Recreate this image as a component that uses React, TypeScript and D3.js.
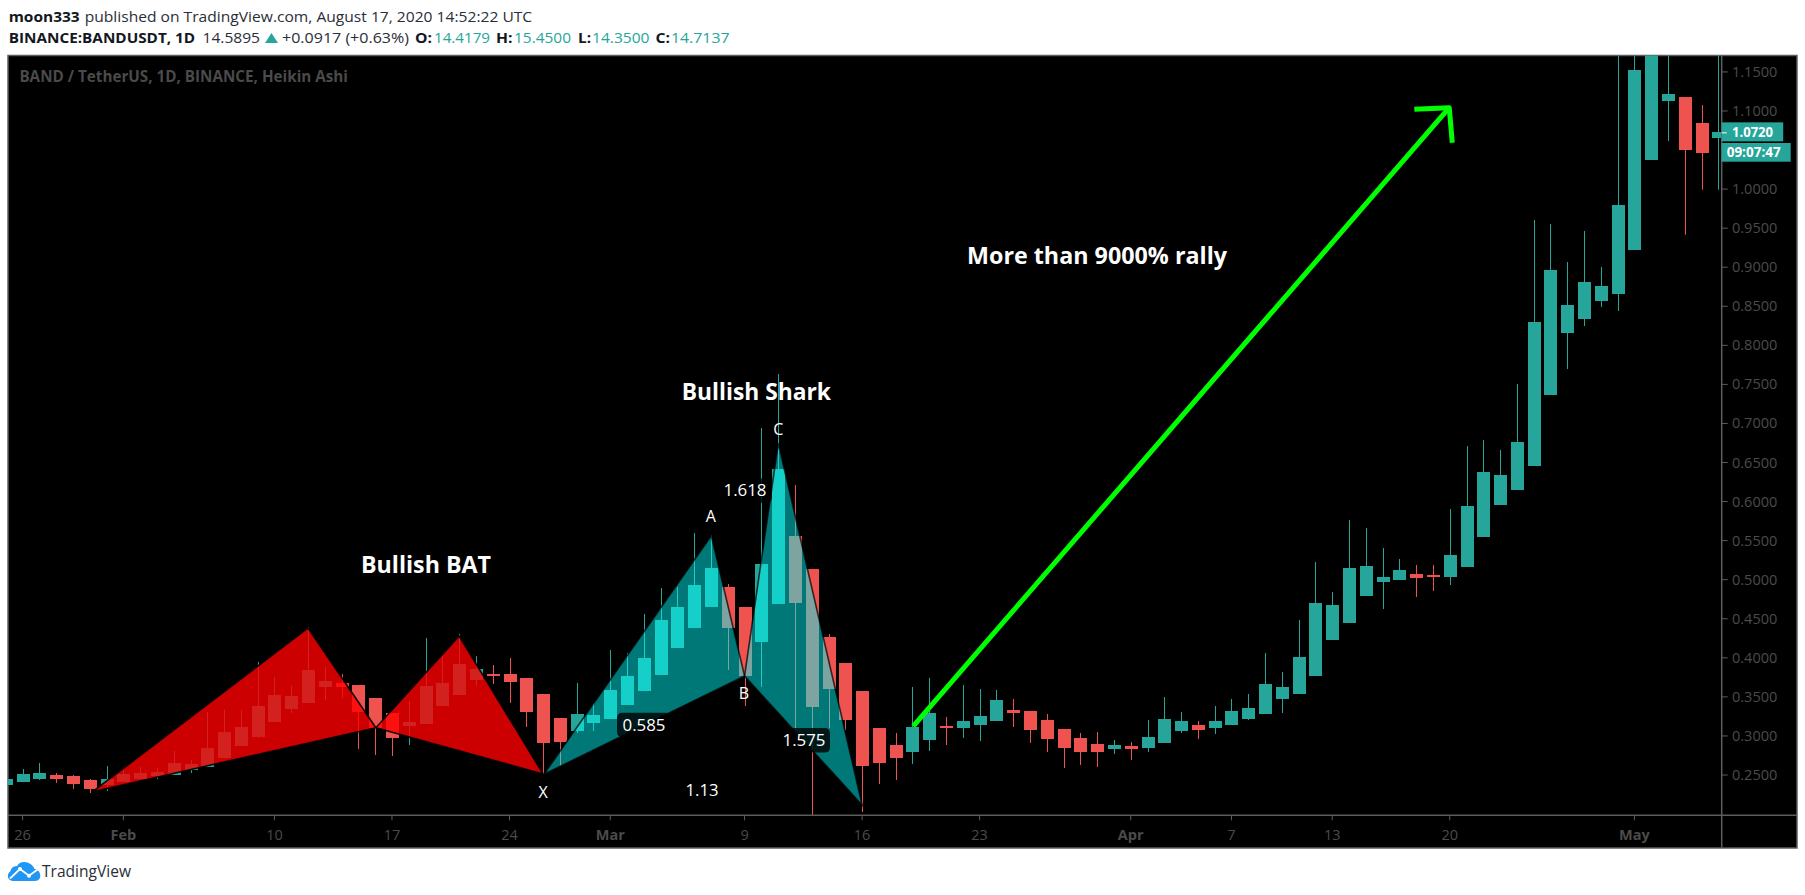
import React from 'react';
import * as d3 from 'd3';

// Daily Heikin Ashi candles, index 0 = Jan 26 (index -1 = Jan 25 is clipped by the frame)
const firstIndex = -1;
const directions = [
  'u','u','u','d','d','d','u', // -1..5
  'u','u','u','u','u','u','u','u','u','u','u','u','u', // 6..18
  'd','d','d','d', // 19..22
  'u','u','u','u','u', // 23..27
  'd','d','d','d','d', // 28..32
  'u','u','u','u','u','u','u','u','u', // 33..41
  'd','d', // 42..43
  'u','u', // 44..45
  'd','d','d','d','d','d','d', // 46..52
  'u','u','d','u','u','u', // 53..58
  'd','d','d','d','d','d', // 59..64
  'u','d','u','u','u','d', // 65..70
  'u','u','u','u','u','u','u','u','u','u','u','u', // 71..82
  'd','d', // 83..84
  'u','u','u','u','u','u','u','u','u','u','u','u','u','u', // 85..98
  'd','d','u', // 99..101
];
const highs = [.2449,
  .2577,.2654,.2526,.2500,.2449,.2615,.2564,.2602,.2590,.2807,
  .2692,.3306,.3332,.3332,.3946,.3754,.3639,.4394,.3882,.3793,
  .3652,.3486,.3294,.3447,.4254,.4036,.4305,.4023,.3908,.3998,
  .3742,.3537,.3230,.3678,.3422,.4100,.4062,.4561,.4894,.4906,
  .5598,.5572,.4945,.4650,.6942,.7633,.6212,.5137,.4305,.3934,
  .3575,.3102,.3038,.3626,.3742,.3242,.3652,.3601,.3588,.3473,
  .3319,.3281,.3089,.3038,.3050,.2948,.2922,.3204,.3498,.3306,
  .3191,.3383,.3473,.3537,.4062,.3818,.4484,.5226,.4843,.5764,
  .5662,.5406,.5265,.5188,.5188,.5905,.6711,.6788,.6660,.7505,
  .9604,.9553,.9067,.9464,.9003,1.25,1.25,1.30,1.25,1.1179,
  1.1076,1.25];
const bodyTops = [.2449,
  .2513,.2526,.2500,.2487,.2436,.2449,.2513,.2526,.2538,.2654,
  .2641,.2846,.3050,.3114,.3383,.3524,.3511,.3844,.3703,.3678,
  .3652,.3486,.3294,.3178,.3639,.3678,.3921,.3857,.3793,.3793,
  .3742,.3537,.3230,.3281,.3268,.3588,.3767,.3998,.4484,.4650,
  .4932,.5150,.4906,.4650,.5201,.6417,.5559,.5137,.4266,.3934,
  .3575,.3102,.2884,.3114,.3294,.3127,.3191,.3255,.3460,.3332,
  .3319,.3204,.3089,.2974,.2897,.2884,.2871,.2986,.3217,.3191,
  .3140,.3191,.3319,.3358,.3665,.3626,.4010,.4702,.4676,.5150,
  .5175,.5035,.5124,.5073,.5060,.5316,.5944,.6378,.6340,.6763,
  .8298,.8964,.8516,.8811,.8760,.9796,1.1525,1.20,1.1218,1.1179,
  1.0847,1.0731];
const bodyBottoms = [.2372,
  .2410,.2449,.2449,.2385,.2321,.2372,.2410,.2449,.2487,.2500,
  .2564,.2602,.2718,.2871,.2986,.3178,.3345,.3422,.3626,.3626,
  .3306,.3102,.2974,.3127,.3153,.3383,.3524,.3716,.3767,.3690,
  .3306,.2910,.2922,.3063,.3166,.3217,.3396,.3575,.3780,.4126,
  .4382,.4650,.4382,.3767,.4202,.4689,.4702,.3370,.3601,.3204,
  .2615,.2654,.2718,.2794,.2948,.3102,.3102,.3140,.3191,.3294,
  .3076,.2961,.2846,.2794,.2794,.2833,.2833,.2846,.2910,.3063,
  .3076,.3102,.3140,.3217,.3281,.3473,.3537,.3767,.4228,.4446,
  .4791,.4971,.4996,.5022,.5035,.5035,.5163,.5547,.5956,.6148,
  .6455,.7364,.8158,.8337,.8567,.8657,.9220,1.0373,1.1128,1.0500,
  1.0464,1.0659];
const lows = [.2372,
  .2410,.2436,.2398,.2321,.2270,.2295,.2410,.2449,.2449,.2500,
  .2526,.2602,.2718,.2871,.2974,.3178,.3294,.3422,.3460,.3486,
  .2833,.2756,.2743,.2884,.3153,.3383,.3524,.3639,.3665,.3422,
  .3114,.2513,.2615,.3038,.3063,.3217,.3396,.3575,.3780,.4126,
  .4382,.4650,.3844,.3383,.3626,.4689,.3038,.1796,.3102,.3076,
  .2026,.2385,.2436,.2641,.2807,.2884,.2974,.2935,.3191,.3114,
  .2910,.2794,.2590,.2628,.2602,.2769,.2692,.2794,.2910,.3038,
  .2961,.3025,.3140,.3204,.3281,.3294,.3537,.3767,.4228,.4446,
  .4791,.4625,.4996,.4778,.4855,.4932,.5163,.5547,.5956,.6148,
  .6455,.7364,.7697,.8247,.8491,.8439,.9220,1.0373,1.0616,.9415,
  .9992,.9992];

const priceTicks = [1.15,1.1,1.0,.95,.9,.85,.8,.75,.7,.65,.6,.55,.5,.45,.4,.35,.3,.25];
const timeTickIndex = [0,6,15,22,29,35,43,50,57,66,72,78,85,96];
const timeTickLabels = ['26','Feb','10','17','24','Mar','9','16','23','Apr','7','13','20','May'];
const monthLabels = ['Feb','Mar','Apr','May'];

// Harmonic pattern pivots: [bar index, price]
const batPivots: [number, number][] = [[4.17,.2286],[17.0,.4382],[21.04,.3105],[26.0,.4279],[31.0,.2513]];
const sharkPivots: [number, number][] = [[31.05,.2509],[41.02,.5563],[43.0,.3767],[45.01,.6746],[50.0,.2116]];
const arrowShaft: [number, number][] = [[53.05,.3127],[84.97,1.1042]];
const arrowHead: [number, number][] = [[82.89,1.1022],[84.97,1.1042],[85.15,1.0594]];

const lastPrice = 1.0720;
const lastPriceLabel = '1.0720';
const countdown = '09:07:47';

const UP = '#26a69a';
const DOWN = '#ef5350';
const AXIS = '#5d5d5d';
const LABEL = '#4b4b4b';
const FONT = '"Open Sans", "Noto Sans", sans-serif';

const left = 8, right = 1797, top = 55.5, bottom = 848, axisX = 1721.7, axisY = 815.3;

const x = d3.scaleLinear().domain([0, 101]).range([22.6, 22.6 + 101 * 16.79]);
const y = d3.scaleLinear().domain([0.25, 1.15]).range([775, 775 - 0.9 * 781.2]);
const line = d3.line<[number, number]>().x(d => x(d[0])).y(d => y(d[1]));

function Pattern({ pts, fill, opacity, stroke, strokeOpacity }: { pts: [number, number][]; fill: string; opacity: number; stroke: string; strokeOpacity: number }) {
  const [a, b, c, d, e] = pts;
  return (
    <g>
      <path d={line([a, b, c]) + 'Z'} fill={fill} fillOpacity={opacity} />
      <path d={line([c, d, e]) + 'Z'} fill={fill} fillOpacity={opacity} />
      <path d={line([a, b, c, a]) ?? ''} fill="none" stroke={stroke} strokeOpacity={strokeOpacity} strokeWidth={1.6} />
      <path d={line([c, d, e, c]) ?? ''} fill="none" stroke={stroke} strokeOpacity={strokeOpacity} strokeWidth={1.6} />
    </g>
  );
}

function Fit({ x: px, y: py, w, size, weight, fill, children, anchor }: any) {
  return (
    <text x={px} y={py} fontSize={size} fontWeight={weight} fill={fill} fontFamily={FONT} textLength={w} lengthAdjust="spacingAndGlyphs" textAnchor={anchor}>
      {children}
    </text>
  );
}

function Ratio({ cx, cy, w, tw, label }: { cx: number; cy: number; w: number; tw: number; label: string }) {
  return (
    <g>
      <rect x={cx - w / 2} y={cy - 12.3} width={w} height={24.6} rx={5} fill="#000" fillOpacity={0.8} />
      <Fit x={cx - tw / 2} y={cy + 5.5} w={tw} size={16} fill="#fff">{label}</Fit>
    </g>
  );
}

function Letter({ cx, cy, t }: { cx: number; cy: number; t: string }) {
  return <text x={cx} y={cy + 5.8} textAnchor="middle" fontSize={16} fill="#fff" fontFamily={FONT}>{t}</text>;
}

export default function App() {
  return (
    <svg width={1805} height={895} style={{ position: 'fixed', left: 0, top: 0, background: '#fff' }}>
      <defs>
        <clipPath id="plot"><rect x={left} y={top} width={axisX - left} height={axisY - top} /></clipPath>
      </defs>

      {/* header */}
      <Fit x={8.7} y={21.5} w={71} size={15} weight={700} fill="#131722">moon333</Fit>
      <Fit x={84.7} y={21.5} w={447.5} size={15} weight={400} fill="#2a2e39">published on TradingView.com, August 17, 2020 14:52:22 UTC</Fit>
      <Fit x={8.7} y={43} w={186.5} size={15} weight={700} fill="#131722">BINANCE:BANDUSDT, 1D</Fit>
      <Fit x={202.5} y={43} w={57.5} size={15} weight={400} fill="#2a2e39">14.5895</Fit>
      <path d="M265 43 L271.5 33 L278 43 Z" fill={UP} />
      <Fit x={282} y={43} w={127} size={15} weight={400} fill="#2a2e39">+0.0917 (+0.63%)</Fit>
      <Fit x={415} y={43} w={17} size={15} weight={700} fill="#131722">O:</Fit>
      <Fit x={434} y={43} w={56} size={15} weight={400} fill={UP}>14.4179</Fit>
      <Fit x={496} y={43} w={16.5} size={15} weight={700} fill="#131722">H:</Fit>
      <Fit x={514} y={43} w={57} size={15} weight={400} fill={UP}>15.4500</Fit>
      <Fit x={578} y={43} w={13} size={15} weight={700} fill="#131722">L:</Fit>
      <Fit x={592} y={43} w={57.5} size={15} weight={400} fill={UP}>14.3500</Fit>
      <Fit x={655.6} y={43} w={14.5} size={15} weight={700} fill="#131722">C:</Fit>
      <Fit x={671} y={43} w={58.5} size={15} weight={400} fill={UP}>14.7137</Fit>

      {/* frame */}
      <rect x={left} y={top} width={right - left} height={bottom - top} fill="#000" stroke={AXIS} strokeWidth={1.5} />
      <Fit x={19.4} y={81.7} w={328.6} size={15.5} weight={700} fill="#4a4a4a">BAND / TetherUS, 1D, BINANCE, Heikin Ashi</Fit>

      {/* candles */}
      <g clipPath="url(#plot)">
        {highs.map((h, k) => {
          const cx = Math.round(x(k + firstIndex));
          const c = directions[k] === 'u' ? UP : DOWN;
          const t = Math.round(y(bodyTops[k]));
          const b = Math.round(y(bodyBottoms[k]));
          return (
            <g key={k}>
              <line x1={cx + 0.5} x2={cx + 0.5} y1={y(h)} y2={y(lows[k])} stroke={c} strokeWidth={1} />
              <rect x={cx - 6} y={t} width={13} height={Math.max(b - t, 2)} fill={c} />
            </g>
          );
        })}
      </g>

      {/* harmonic patterns */}
      <Pattern pts={batPivots} fill="#ff0000" opacity={0.8} stroke="#000" strokeOpacity={0.9} />
      <Pattern pts={sharkPivots} fill="#00ffff" opacity={0.47} stroke="#000" strokeOpacity={0.72} />

      <Ratio cx={644} cy={725} w={54} tw={43} label="0.585" />
      <Ratio cx={804} cy={740.3} w={52} tw={43} label="1.575" />
      <Ratio cx={745} cy={490.7} w={54} tw={43} label="1.618" />
      <Ratio cx={702} cy={790} w={44} tw={33} label="1.13" />
      <Letter cx={543} cy={792} t="X" />
      <Letter cx={710.7} cy={515.7} t="A" />
      <Letter cx={744} cy={692.7} t="B" />
      <Letter cx={778.3} cy={428.7} t="C" />

      {/* annotations */}
      <Fit x={361} y={573} w={130} size={23} weight={700} fill="#fff">Bullish BAT</Fit>
      <Fit x={681.7} y={400} w={149.3} size={23} weight={700} fill="#fff">Bullish Shark</Fit>
      <Fit x={967} y={264} w={260} size={23} weight={700} fill="#fff">More than 9000% rally</Fit>
      <path d={line(arrowShaft) ?? ''} stroke="#00ff00" strokeWidth={5} fill="none" />
      <path d={line(arrowHead) ?? ''} stroke="#00ff00" strokeWidth={5} fill="none" strokeLinejoin="round" />

      {/* axes */}
      <line x1={axisX} x2={axisX} y1={top} y2={bottom} stroke={AXIS} strokeWidth={1.5} />
      <line x1={left} x2={right} y1={axisY} y2={axisY} stroke={AXIS} strokeWidth={1.5} />
      {priceTicks.map(v => (
        <g key={v}>
          <line x1={axisX} x2={axisX + 6} y1={y(v)} y2={y(v)} stroke={AXIS} />
          <text x={1732} y={y(v) + 5} fontSize={14.5} fill={LABEL} fontFamily={FONT}>{v.toFixed(4)}</text>
        </g>
      ))}
      {timeTickIndex.map((t, k) => {
        const bold = monthLabels.includes(timeTickLabels[k]);
        return (
          <g key={k}>
            <line x1={x(t)} x2={x(t)} y1={axisY} y2={axisY + 5} stroke={AXIS} />
            <text x={x(t)} y={839.5} textAnchor="middle" fontSize={14.5} fontWeight={bold ? 700 : 400} fill={LABEL} fontFamily={FONT}>{timeTickLabels[k]}</text>
          </g>
        );
      })}

      {/* last price */}
      <rect x={axisX} y={y(lastPrice) - 10.5} width={61.5} height={19} fill={UP} />
      <line x1={axisX} x2={axisX + 5} y1={y(lastPrice)} y2={y(lastPrice)} stroke="#fff" />
      <Fit x={1732} y={y(lastPrice) + 4.3} w={41} size={14.5} weight={700} fill="#fff">{lastPriceLabel}</Fit>
      <rect x={axisX} y={143} width={69} height={18.7} fill={UP} />
      <Fit x={1726.7} y={157.3} w={54} size={14.5} weight={700} fill="#fff">{countdown}</Fit>

      {/* footer logo */}
      <path d="M13 881 H35 C39 881 41 878 40 874 C39.5 871 37 869 34.5 869 C33 865 29 862 24 862 C21 862 18.5 863.5 17 866 C12.5 866 11 869 10.5 871 C8 873 7 876 8.5 878.5 C9.5 880 11 881 13 881 Z" fill="#2196f3" />
      <polyline points="10,878.5 20,869 29,875.7 39,868.5" fill="none" stroke="#fff" strokeWidth={1.8} />
      <circle cx={20} cy={869} r={2} fill="#fff" />
      <circle cx={29} cy={875.7} r={2} fill="#fff" />
      <Fit x={42} y={877} w={89} size={16.5} weight={400} fill="#2a2e39">TradingView</Fit>
    </svg>
  );
}
